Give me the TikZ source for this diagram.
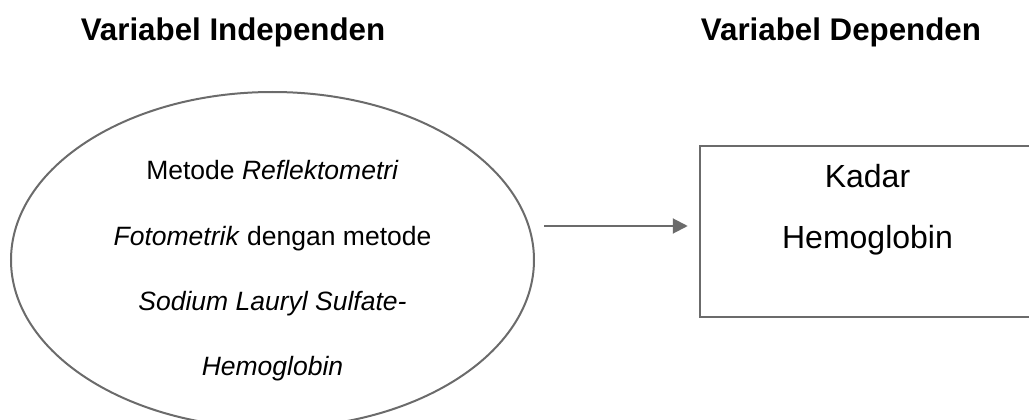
\documentclass[tikz,border=0pt]{standalone}
\usepackage{fontspec}
\setmainfont{Liberation Sans}
\usetikzlibrary{shapes.geometric,arrows.meta}
\definecolor{linegray}{HTML}{6B6B6B}
\begin{document}
\begin{tikzpicture}[
    x=1pt, y=-1pt,
    heading/.style={
        anchor=base,
        font=\fontsize{31.3}{36}\selectfont\bfseries
    },
    oval/.style={
        ellipse,
        draw=linegray,
        line width=2pt,
        minimum width=523pt,
        minimum height=336pt,
        inner sep=0pt
    },
    varbox/.style={
        rectangle,
        draw=linegray,
        line width=2.5pt,
        minimum width=335pt,
        minimum height=171pt
    },
    ovaltext/.style={align=center, font=\fontsize{26.5}{65.3}\selectfont},
    boxtext/.style={align=center, font=\fontsize{32}{61}\selectfont},
    link/.style={-{Triangle[length=15pt,width=15pt]}, draw=linegray, line width=2pt}
]
\useasboundingbox (0,0) rectangle (1029,420);

\node[heading] (indhead) at (233,41) {Variabel Independen};
\node[heading] (dephead) at (841,41) {Variabel Dependen};

\node[oval] (indep) at (272.5,260) {};
\node[ovaltext] (indtext) at (272.5,271) {Metode \textit{Reflektometri}\\ \textit{Fotometrik} dengan metode\\ \textit{Sodium Lauryl Sulfate-}\\ \textit{Hemoglobin}};

\node[varbox] (dep) at (867.5,231.5) {};
\node[boxtext] (deptext) at (867.5,210) {Kadar\\ Hemoglobin};

\coordinate (start) at (544,226);
\draw[link, shorten >=11pt] (start) -- (start -| dep.west);
\end{tikzpicture}
\end{document}
